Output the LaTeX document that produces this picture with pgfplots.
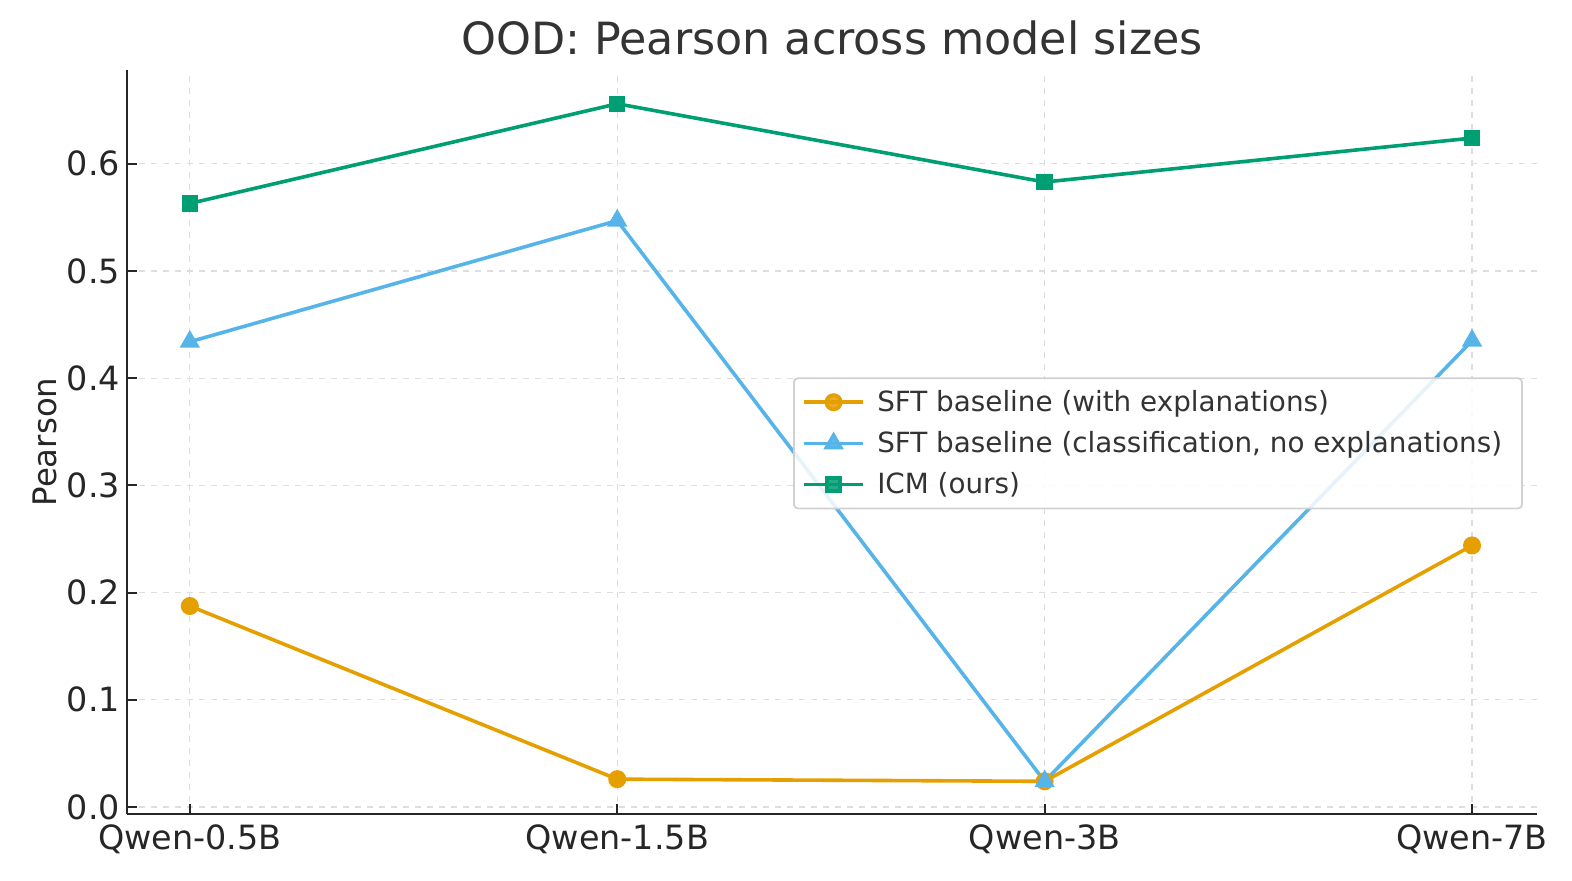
\documentclass[border=0pt]{standalone}
\usepackage{pgfplots}
\pgfplotsset{compat=1.18}
\usepackage{fontspec}
\setmainfont{DejaVu Sans}
\definecolor{cOrange}{HTML}{E69F00}
\definecolor{cBlue}{HTML}{56B4E9}
\definecolor{cGreen}{HTML}{009E73}
\definecolor{txt}{HTML}{262626}
\begin{document}
\begin{tikzpicture}
\begin{axis}[
    scale only axis,
    width=705pt, height=372pt,
    xmin=-0.147, xmax=3.152,
    ymin=-0.0065, ymax=0.6875,
    axis lines*=left,
    axis line style={line width=1.2pt, color=txt},
    xtick={0,1,2,3},
    xticklabels={Qwen-0.5B, Qwen-1.5B, Qwen-3B, Qwen-7B},
    ytick={0,0.1,0.2,0.3,0.4,0.5,0.6},
    yticklabel style={/pgf/number format/.cd, fixed, fixed zerofill, precision=1},
    /pgf/number format/assume math mode=true,
    tick label style={font=\fontsize{16.7}{19}\selectfont, color=txt},
    xticklabel style={yshift=-2pt},
    major tick length=5pt,
    tick style={line width=1pt, color=txt},
    grid=major,
    major grid style={dashed, color=black!13, line width=0.6pt},
    ylabel={Pearson},
    ylabel style={font=\fontsize{16.2}{18}\selectfont, color=txt, yshift=-2pt},
    title={OOD: Pearson across model sizes},
    title style={font=\fontsize{22.2}{26}\selectfont, color=black!80, yshift=-2pt},
    legend style={at={(0.99,0.587)}, anchor=north east,
        font=\fontsize{13.9}{16}\selectfont, text=black!80,
        draw=black!18, line width=0.9pt, rounded corners=2pt,
        fill=white, fill opacity=0.85, text opacity=1,
        row sep=4.5pt, inner xsep=4pt, inner ysep=4pt,
        nodes={inner xsep=6pt}},
    legend cell align={left},
    legend image code/.code={
        \draw[#1, line width=1.8pt] (0cm,0cm) -- (1.05cm,0cm);
        \draw[#1, mark repeat=2, mark phase=2] plot coordinates {(0cm,0cm) (0.525cm,0cm) (1.05cm,0cm)};
    },
    every axis plot/.append style={line width=1.8pt},
    clip=false,
]
\addplot[color=cOrange, mark=*, mark size=3.6pt, mark options={solid}] coordinates {
    (0,0.1875) (1,0.026) (2,0.024) (3,0.244)};
\addlegendentry{SFT baseline (with explanations)}
\addplot[color=cBlue, mark=triangle*, mark size=4.1pt] coordinates {
    (0,0.434) (1,0.547) (2,0.024) (3,0.435)};
\addlegendentry{SFT baseline (classification, no explanations)}
\addplot[color=cGreen, mark=square*, mark size=3.2pt] coordinates {
    (0,0.563) (1,0.656) (2,0.583) (3,0.624)};
\addlegendentry{ICM (ours)}
\path[use as bounding box] ([xshift=-63.5pt,yshift=-33pt]rel axis cs:0,0) rectangle ([xshift=17.5pt,yshift=35pt]rel axis cs:1,1);
\end{axis}
\end{tikzpicture}
\end{document}
